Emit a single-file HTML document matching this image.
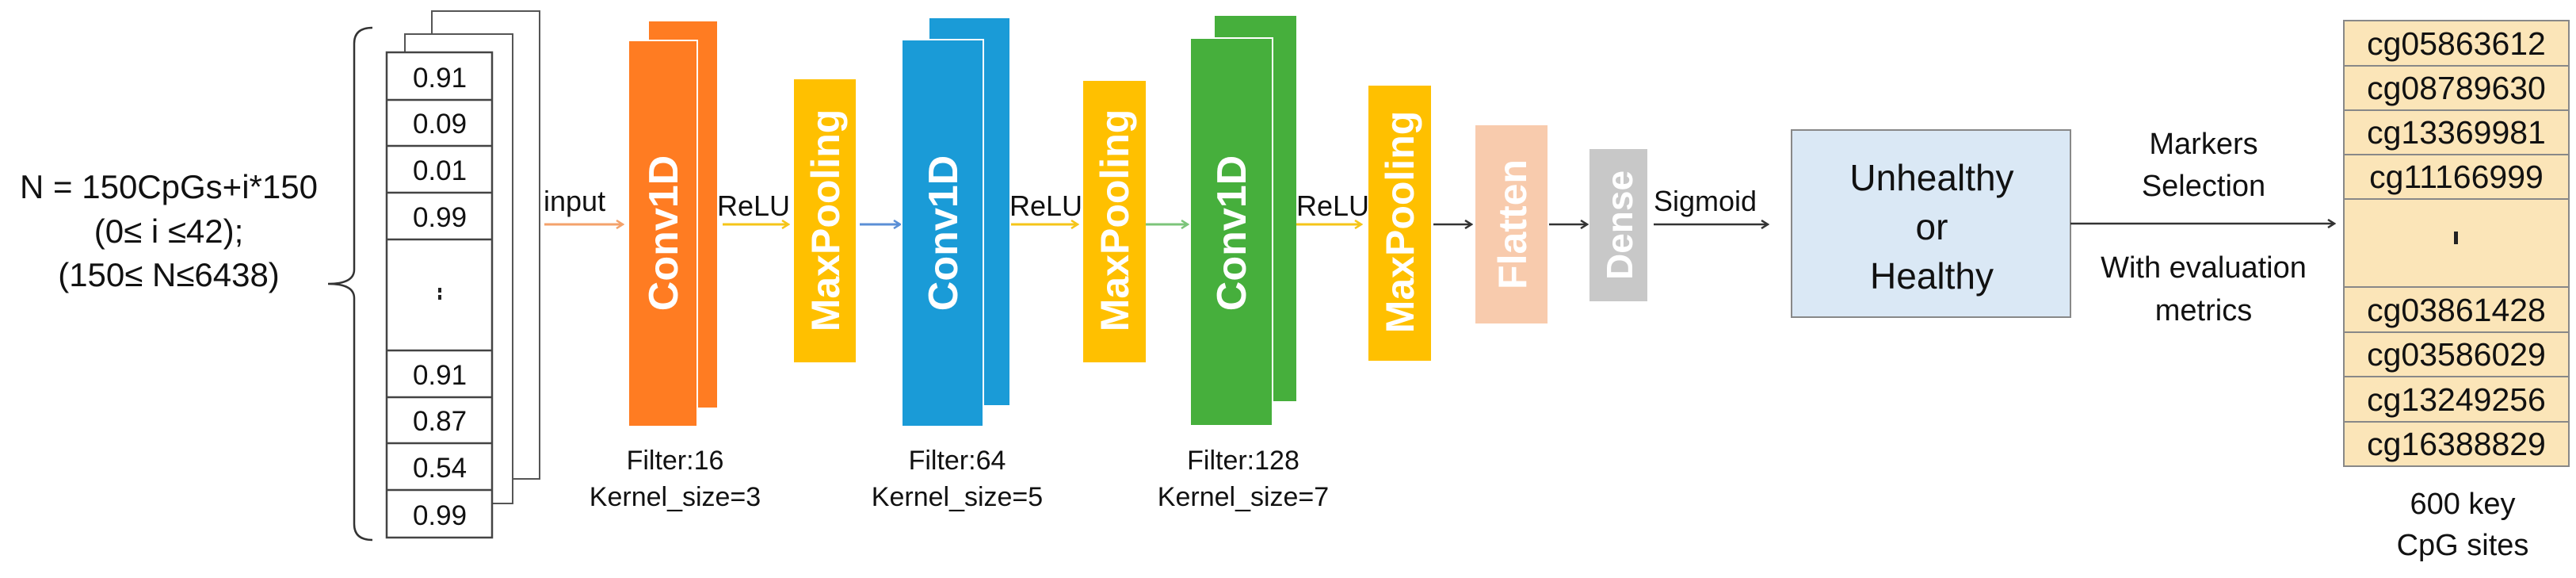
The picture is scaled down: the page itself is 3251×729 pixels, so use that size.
<!DOCTYPE html>
<html><head><meta charset="utf-8"><style>
html,body{margin:0;padding:0;background:#fff;}
svg{display:block;}
text{font-family:"Liberation Sans",Arial,sans-serif;}
</style></head><body>
<svg width="3251" height="729" viewBox="0 0 3251 729" xmlns="http://www.w3.org/2000/svg">
<defs>
<marker id="ak" markerWidth="12" markerHeight="12" refX="10" refY="6" orient="auto" markerUnits="userSpaceOnUse"><polyline points="2,1 10,6 2,11" fill="none" stroke="#333" stroke-width="2.5"/></marker>
<marker id="ao" markerWidth="12" markerHeight="12" refX="10" refY="6" orient="auto" markerUnits="userSpaceOnUse"><polyline points="2,1 10,6 2,11" fill="none" stroke="#F4A26B" stroke-width="2.5"/></marker>
<marker id="ay" markerWidth="12" markerHeight="12" refX="10" refY="6" orient="auto" markerUnits="userSpaceOnUse"><polyline points="2,1 10,6 2,11" fill="none" stroke="#F5C518" stroke-width="2.5"/></marker>
<marker id="ab" markerWidth="12" markerHeight="12" refX="10" refY="6" orient="auto" markerUnits="userSpaceOnUse"><polyline points="2,1 10,6 2,11" fill="none" stroke="#5B8FD6" stroke-width="2.5"/></marker>
<marker id="ag" markerWidth="12" markerHeight="12" refX="10" refY="6" orient="auto" markerUnits="userSpaceOnUse"><polyline points="2,1 10,6 2,11" fill="none" stroke="#7CC47A" stroke-width="2.5"/></marker>
</defs>

<!-- left text -->
<g font-size="42" fill="#111" text-anchor="middle">
<text x="213" y="250">N = 150CpGs+i*150</text>
<text x="213" y="306">(0≤ i ≤42);</text>
<text x="213" y="361">(150≤ N≤6438)</text>
</g>
<!-- brace -->
<path d="M470,35 Q447,35 447,55 L447,340 Q447,358 414,358 Q447,358 447,376 L447,661 Q447,681 470,681" fill="none" stroke="#333" stroke-width="2.5"/>

<!-- stacked columns -->
<rect x="545" y="14" width="136" height="590" fill="#fff" stroke="#555" stroke-width="2"/>
<rect x="511" y="43" width="136" height="592" fill="#fff" stroke="#555" stroke-width="2"/>
<g stroke="#444" stroke-width="2.5" fill="#fff">
<rect x="488" y="66" width="133" height="612"/>
<line x1="488" y1="126" x2="621" y2="126"/><line x1="488" y1="184" x2="621" y2="184"/>
<line x1="488" y1="243" x2="621" y2="243"/><line x1="488" y1="302" x2="621" y2="302"/>
<line x1="488" y1="442" x2="621" y2="442"/><line x1="488" y1="501" x2="621" y2="501"/>
<line x1="488" y1="559" x2="621" y2="559"/><line x1="488" y1="618" x2="621" y2="618"/>
</g>
<g font-size="35" fill="#111" text-anchor="middle">
<text x="555" y="110">0.91</text><text x="555" y="168">0.09</text>
<text x="555" y="227">0.01</text><text x="555" y="286">0.99</text>
<text x="555" y="485">0.91</text><text x="555" y="543">0.87</text>
<text x="555" y="602">0.54</text><text x="555" y="662">0.99</text>
</g>
<rect x="553" y="363" width="4" height="6" fill="#222"/><rect x="553" y="372" width="4" height="6" fill="#222"/>

<!-- input -->
<text x="686" y="266" font-size="36" fill="#111">input</text>
<line x1="687" y1="283" x2="786" y2="283" stroke="#F4A26B" stroke-width="3" marker-end="url(#ao)"/>

<!-- Conv1D orange -->
<rect x="819" y="27" width="86" height="487" fill="#FF7C22"/>
<rect x="793" y="51" width="87" height="487" fill="#FF7C22" stroke="#fff" stroke-width="2"/>
<text transform="translate(855,294) rotate(-90)" text-anchor="middle" font-size="52" font-weight="bold" fill="#fff">Conv1D</text>
<text x="905" y="272" font-size="36" fill="#111">ReLU</text>
<line x1="912" y1="283" x2="995" y2="283" stroke="#F5C518" stroke-width="3" marker-end="url(#ay)"/>

<!-- MaxPooling 1 -->
<rect x="1002" y="100" width="78" height="357" fill="#FFC000"/>
<text transform="translate(1059,278) rotate(-90)" text-anchor="middle" font-size="50" font-weight="bold" fill="#fff">MaxPooling</text>
<line x1="1085" y1="283" x2="1136" y2="283" stroke="#5B8FD6" stroke-width="3" marker-end="url(#ab)"/>

<!-- Conv1D blue -->
<rect x="1173" y="23" width="101" height="488" fill="#1A9BD7"/>
<rect x="1138" y="50" width="103" height="488" fill="#1A9BD7" stroke="#fff" stroke-width="2"/>
<text transform="translate(1208,294) rotate(-90)" text-anchor="middle" font-size="52" font-weight="bold" fill="#fff">Conv1D</text>
<text x="1274" y="272" font-size="36" fill="#111">ReLU</text>
<line x1="1276" y1="283" x2="1360" y2="283" stroke="#F5C518" stroke-width="3" marker-end="url(#ay)"/>

<!-- MaxPooling 2 -->
<rect x="1367" y="102" width="79" height="355" fill="#FFC000"/>
<text transform="translate(1424,278) rotate(-90)" text-anchor="middle" font-size="50" font-weight="bold" fill="#fff">MaxPooling</text>
<line x1="1446" y1="283" x2="1499" y2="283" stroke="#7CC47A" stroke-width="3" marker-end="url(#ag)"/>

<!-- Conv1D green -->
<rect x="1533" y="20" width="103" height="486" fill="#46AF3C"/>
<rect x="1502" y="48" width="104" height="489" fill="#46AF3C" stroke="#fff" stroke-width="2"/>
<text transform="translate(1572,294) rotate(-90)" text-anchor="middle" font-size="52" font-weight="bold" fill="#fff">Conv1D</text>
<text x="1636" y="272" font-size="36" fill="#111">ReLU</text>
<line x1="1636" y1="283" x2="1718" y2="283" stroke="#F5C518" stroke-width="3" marker-end="url(#ay)"/>

<!-- MaxPooling 3 -->
<rect x="1727" y="108" width="79" height="347" fill="#FFC000"/>
<text transform="translate(1784,280) rotate(-90)" text-anchor="middle" font-size="50" font-weight="bold" fill="#fff">MaxPooling</text>
<line x1="1809" y1="283" x2="1857" y2="283" stroke="#333" stroke-width="2.5" marker-end="url(#ak)"/>

<!-- Flatten -->
<rect x="1862" y="158" width="91" height="250" fill="#F8CBAD"/>
<text transform="translate(1926,283) rotate(-90)" text-anchor="middle" font-size="50" font-weight="bold" fill="#fff">Flatten</text>
<line x1="1955" y1="283" x2="2003" y2="283" stroke="#333" stroke-width="2.5" marker-end="url(#ak)"/>

<!-- Dense -->
<rect x="2006" y="188" width="73" height="192" fill="#C8C8C8"/>
<text transform="translate(2060,284) rotate(-90)" text-anchor="middle" font-size="46" font-weight="bold" fill="#fff">Dense</text>
<text x="2087" y="266" font-size="36" fill="#111">Sigmoid</text>
<line x1="2087" y1="283" x2="2231" y2="283" stroke="#333" stroke-width="2.5" marker-end="url(#ak)"/>

<!-- filter labels -->
<g font-size="34" fill="#111" text-anchor="middle">
<text x="852" y="592">Filter:16</text><text x="852" y="638">Kernel_size=3</text>
<text x="1208" y="592">Filter:64</text><text x="1208" y="638">Kernel_size=5</text>
<text x="1569" y="592">Filter:128</text><text x="1569" y="638">Kernel_size=7</text>
</g>

<!-- result box -->
<rect x="2261" y="164" width="352" height="236" fill="#DAE8F5" stroke="#888" stroke-width="2"/>
<g font-size="46" fill="#111" text-anchor="middle">
<text x="2438" y="240">Unhealthy</text><text x="2438" y="302">or</text><text x="2438" y="364">Healthy</text>
</g>
<line x1="2613" y1="282" x2="2946" y2="282" stroke="#333" stroke-width="2.5" marker-end="url(#ak)"/>
<g font-size="38" fill="#111" text-anchor="middle">
<text x="2781" y="194">Markers</text><text x="2781" y="247">Selection</text>
<text x="2781" y="350">With evaluation</text><text x="2781" y="404">metrics</text>
</g>

<!-- CpG table -->
<g stroke="#888" stroke-width="2" fill="#FBE5B8">
<rect x="2958" y="26" width="284" height="562"/>
<line x1="2958" y1="83" x2="3242" y2="83"/><line x1="2958" y1="139" x2="3242" y2="139"/>
<line x1="2958" y1="195" x2="3242" y2="195"/><line x1="2958" y1="251" x2="3242" y2="251"/>
<line x1="2958" y1="362" x2="3242" y2="362"/><line x1="2958" y1="419" x2="3242" y2="419"/>
<line x1="2958" y1="475" x2="3242" y2="475"/><line x1="2958" y1="532" x2="3242" y2="532"/>
</g>
<g font-size="41" fill="#111" text-anchor="middle">
<text x="3100" y="69">cg05863612</text><text x="3100" y="125">cg08789630</text>
<text x="3100" y="181">cg13369981</text><text x="3100" y="237">cg11166999</text>
<text x="3100" y="405">cg03861428</text><text x="3100" y="461">cg03586029</text>
<text x="3100" y="518">cg13249256</text><text x="3100" y="574">cg16388829</text>
</g>
<rect x="3097" y="292" width="5" height="16" fill="#222"/>
<g font-size="38" fill="#111" text-anchor="middle">
<text x="3108" y="648">600 key</text><text x="3108" y="700">CpG sites</text>
</g>
</svg>
</body></html>
